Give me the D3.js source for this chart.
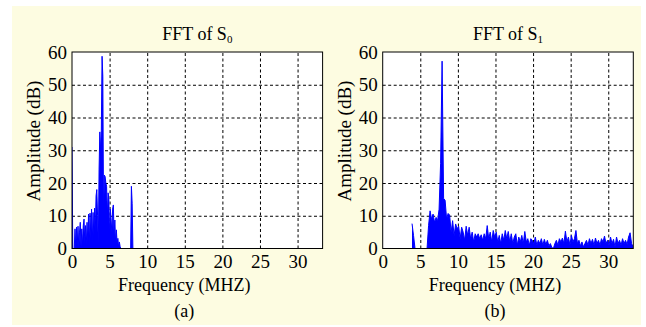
<!DOCTYPE html>
<html>
<head>
<meta charset="utf-8">
<script src="https://cdn.jsdelivr.net/npm/d3@7"></script>
<style>
  body { margin: 0; background: #fff; }
  text { font-family: "Liberation Serif", "Times New Roman", serif; fill: #000; }
</style>
</head>
<body>
<svg id="chart" width="646" height="327"></svg>
<script>
// axis ticks
const xTicks = [0, 5, 10, 15, 20, 25, 30];
const yTicks = [0, 10, 20, 30, 40, 50, 60];

// FFT of S0, amplitude in dB, sampled every 0.1 MHz from 0 MHz
const s0Start = 0, s0Step = 0.1;
const s0Amp = [
  31, 0, 0, 0, 6, 0.5, 6.5, 1, 6.8, 0.5,
  5, 8, 0.5, 6, 1, 7, 9, 1.5, 7, 1,
  8, 2, 10.5, 1, 10.8, 3, 12, 2, 11, 4,
  12.3, 5, 16, 18, 10, 1, 24, 35.6, 30, 36,
  58.7, 52.6, 8, 22.4, 22, 20, 19, 10, 17, 15.3,
  4, 12, 8.7, 5, 12, 13.3, 4, 8.7, 2, 5.7,
  1.5, 3.1, 0.5, 2, 0.6, 0, 0, 0, 0, 0,
  0, 0, 0, 0, 0, 0, 0, 0, 0, 19,
  13.8, 0
];

// FFT of S1, amplitude in dB, sampled every 0.2 MHz from 3.9 MHz
const s1Start = 3.9, s1Step = 0.2;
const s1Amp = [
  7.6, 4, 0, 0, 0, 0, 0, 0, 0, 0,
  0, 7, 11.5, 9, 10.5, 8, 9.5, 8.5, 12, 26,
  57.2, 15.3, 14.7, 9, 10.7, 10.2, 5, 8.5, 4, 7.5,
  6, 6.8, 3, 6.5, 5, 2.5, 6.8, 4, 6.5, 3,
  5, 2, 4.5, 3.5, 4.5, 3, 4.2, 2.5, 4.5, 3,
  7, 3, 5, 2, 5.5, 3.5, 5, 2, 4, 1.5,
  4.5, 2.5, 5.5, 3, 5.2, 2, 4.5, 1.5, 3.5, 4.5,
  1, 3.5, 2, 4, 1.5, 5.2, 2, 3, 1, 3,
  2.5, 1.5, 3.5, 1, 2.5, 1.5, 3, 1, 2.8, 1.2,
  2.5, 0.8, 1.5, 0.3, 0, 1.5, 2.5, 1, 3, 2,
  3.2, 1.5, 5.3, 2, 3.5, 1, 4, 2, 3, 5.5,
  1.5, 2.5, 0.8, 2, 0.5, 1.5, 2.5, 1, 3, 1.5,
  2.8, 1, 3.2, 1.5, 2.5, 1, 3, 2, 3.8, 1.5,
  2.5, 1, 3.5, 1.5, 2.8, 0.5, 3.5, 1.5, 2.5, 1,
  3, 1.5, 2.5, 1.2, 3.5, 4.8, 1.5, 0.5
];

const panels = [
  { sub: "0", caption: "(a)", start: s0Start, step: s0Step, amp: s0Amp, x0: 72, x1: 322.6 },
  { sub: "1", caption: "(b)", start: s1Start, step: s1Step, amp: s1Amp, x0: 382.7, x1: 633.3 }
];

const svg = d3.select("#chart");
const plotTop = 52, plotBottom = 248.5;
const fontSize = 18;

// light yellow figure background
svg.append("rect")
  .attr("x", 12).attr("y", 6)
  .attr("width", 629).attr("height", 319)
  .attr("fill", "#fdfce1");

panels.forEach((p, i) => {
  const x = d3.scaleLinear().domain([0, 33.33]).range([p.x0, p.x1]);
  const y = d3.scaleLinear().domain([0, 60]).range([plotBottom, plotTop]);
  const g = svg.append("g");
  const w = p.x1 - p.x0, h = plotBottom - plotTop;

  g.append("rect")
    .attr("x", p.x0).attr("y", plotTop)
    .attr("width", w).attr("height", h)
    .attr("fill", "#fff");

  // dashed grid
  g.append("g")
    .attr("transform", `translate(0,${plotBottom})`)
    .call(d3.axisBottom(x).tickValues(xTicks.slice(1)).tickSize(-h).tickFormat(() => ""))
    .call(a => a.select(".domain").remove())
    .selectAll("line")
    .attr("stroke", "#000")
    .attr("stroke-dasharray", "3,2.5");

  g.append("g")
    .attr("transform", `translate(${p.x0},0)`)
    .call(d3.axisLeft(y).tickValues(yTicks.slice(1, -1)).tickSize(-w).tickFormat(() => ""))
    .call(a => a.select(".domain").remove())
    .selectAll("line")
    .attr("stroke", "#000")
    .attr("stroke-dasharray", "3,2.5");

  // spectrum
  const clipId = "clip" + i;
  g.append("clipPath").attr("id", clipId)
    .append("rect")
    .attr("x", p.x0).attr("y", plotTop)
    .attr("width", w).attr("height", h);

  const pts = p.amp.map((a, j) => [p.start + j * p.step, a]);

  const area = d3.area()
    .x(d => x(d[0]))
    .y0(y(0))
    .y1(d => y(d[1]));

  const line = d3.line()
    .x(d => x(d[0]))
    .y(d => y(d[1]));

  g.append("path")
    .datum(pts)
    .attr("clip-path", `url(#${clipId})`)
    .attr("fill", "#0000ff")
    .attr("d", area);

  g.append("path")
    .datum(pts)
    .attr("clip-path", `url(#${clipId})`)
    .attr("fill", "none")
    .attr("stroke", "#0000ff")
    .attr("stroke-width", 1)
    .attr("d", line);

  // axes box
  g.append("rect")
    .attr("x", p.x0).attr("y", plotTop)
    .attr("width", w).attr("height", h)
    .attr("fill", "none")
    .attr("stroke", "#000");

  // tick labels
  g.append("g")
    .attr("transform", `translate(${p.x0},0)`)
    .call(d3.axisLeft(y).tickValues(yTicks).tickSize(0).tickPadding(5))
    .call(a => a.select(".domain").remove())
    .selectAll("text")
    .attr("font-size", 19)
    .attr("font-family", "Liberation Serif");

  g.append("g")
    .attr("transform", `translate(0,${plotBottom})`)
    .call(d3.axisBottom(x).tickValues(xTicks).tickSize(0).tickPadding(6))
    .call(a => a.select(".domain").remove())
    .selectAll("text")
    .attr("font-size", 19)
    .attr("font-family", "Liberation Serif");

  // title
  const cx = (p.x0 + p.x1) / 2;
  const t = g.append("text")
    .attr("x", cx).attr("y", 40)
    .attr("text-anchor", "middle")
    .attr("font-size", fontSize)
    .text("FFT of S");
  t.append("tspan")
    .attr("font-size", 11)
    .attr("dy", 3)
    .text(p.sub);

  g.append("text")
    .attr("x", cx - 13).attr("y", 291)
    .attr("text-anchor", "middle")
    .attr("font-size", fontSize)
    .text("Frequency (MHZ)");

  g.append("text")
    .attr("x", cx - 13).attr("y", 317)
    .attr("text-anchor", "middle")
    .attr("font-size", fontSize)
    .text(p.caption);

  g.append("text")
    .attr("transform", `translate(${p.x0 - 32},141) rotate(-90)`)
    .attr("text-anchor", "middle")
    .attr("font-size", 19)
    .text("Amplitude (dB)");
});
</script>
</body>
</html>
